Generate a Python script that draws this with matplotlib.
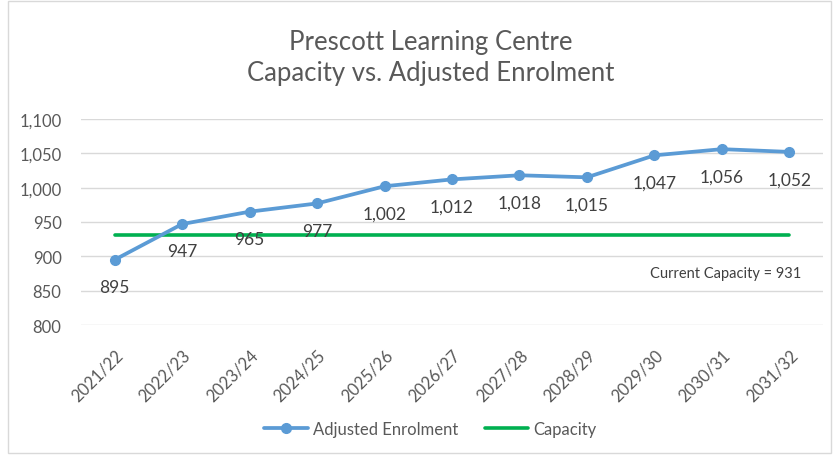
import matplotlib.pyplot as plt
from matplotlib.patches import Rectangle

years = ['2021/22', '2022/23', '2023/24', '2024/25', '2025/26', '2026/27',
         '2027/28', '2028/29', '2029/30', '2030/31', '2031/32']
enrolment = [895, 947, 965, 977, 1002, 1012, 1018, 1015, 1047, 1056, 1052]
capacity = [931] * len(years)
yticks = [800, 850, 900, 950, 1000, 1050, 1100]

plt.rcParams['font.family'] = ['Lato', 'DejaVu Sans']
grey = '#595959'

fig = plt.figure(figsize=(8.39, 4.56), dpi=100)
ax = fig.add_axes([0.0965, 0.285, 0.8845, 0.452])

x = list(range(len(years)))
ax.plot(x, enrolment, color='#5B9BD5', lw=2.7, marker='o', ms=7,
        solid_capstyle='round', label='Adjusted Enrolment', zorder=3)
ax.plot(x, capacity, color='#00B050', lw=2.6, solid_capstyle='round',
        label='Capacity', zorder=2)

for xi, v in zip(x, enrolment):
    ax.annotate('{:,}'.format(v), (xi, v), xytext=(0, -14), textcoords='offset points',
                ha='center', va='top', fontsize=12.5, color='#404040')

ax.text(len(years) - 0.83, 876, 'Current Capacity = {}'.format(capacity[0]),
        ha='right', va='center', fontsize=10.5, color='#404040')

ax.set_xlim(-0.5, len(years) - 0.5)
ax.set_ylim(yticks[0], yticks[-1])
ax.set_yticks(yticks)
ax.set_yticklabels(['{:,}'.format(t) for t in yticks])
ax.set_xticks(x)
ax.set_xticklabels(years, rotation=45, ha='right', rotation_mode='anchor')
ax.tick_params(axis='both', length=0, labelsize=12, labelcolor=grey)
ax.tick_params(axis='x', pad=15)
ax.tick_params(axis='y', pad=14)
ax.grid(axis='y', color='#d9d9d9', lw=1)
ax.set_axisbelow(True)
for s in ax.spines.values():
    s.set_visible(False)

fig.text(0.513, 0.873, 'Prescott Learning Centre\nCapacity vs. Adjusted Enrolment',
         ha='center', va='center', fontsize=18.5, color=grey, linespacing=1.3)

fig.legend(loc='center', bbox_to_anchor=(0.513, 0.057), ncol=2, frameon=False,
           fontsize=12, handlelength=2.6, handletextpad=0.3, columnspacing=1.6,
           labelcolor=grey)

fig.patches.append(Rectangle((0.009, 0.005), 0.982, 0.99, transform=fig.transFigure,
                             fill=False, edgecolor='#d9d9d9', lw=1))

fig.savefig('out.png', dpi=100)
